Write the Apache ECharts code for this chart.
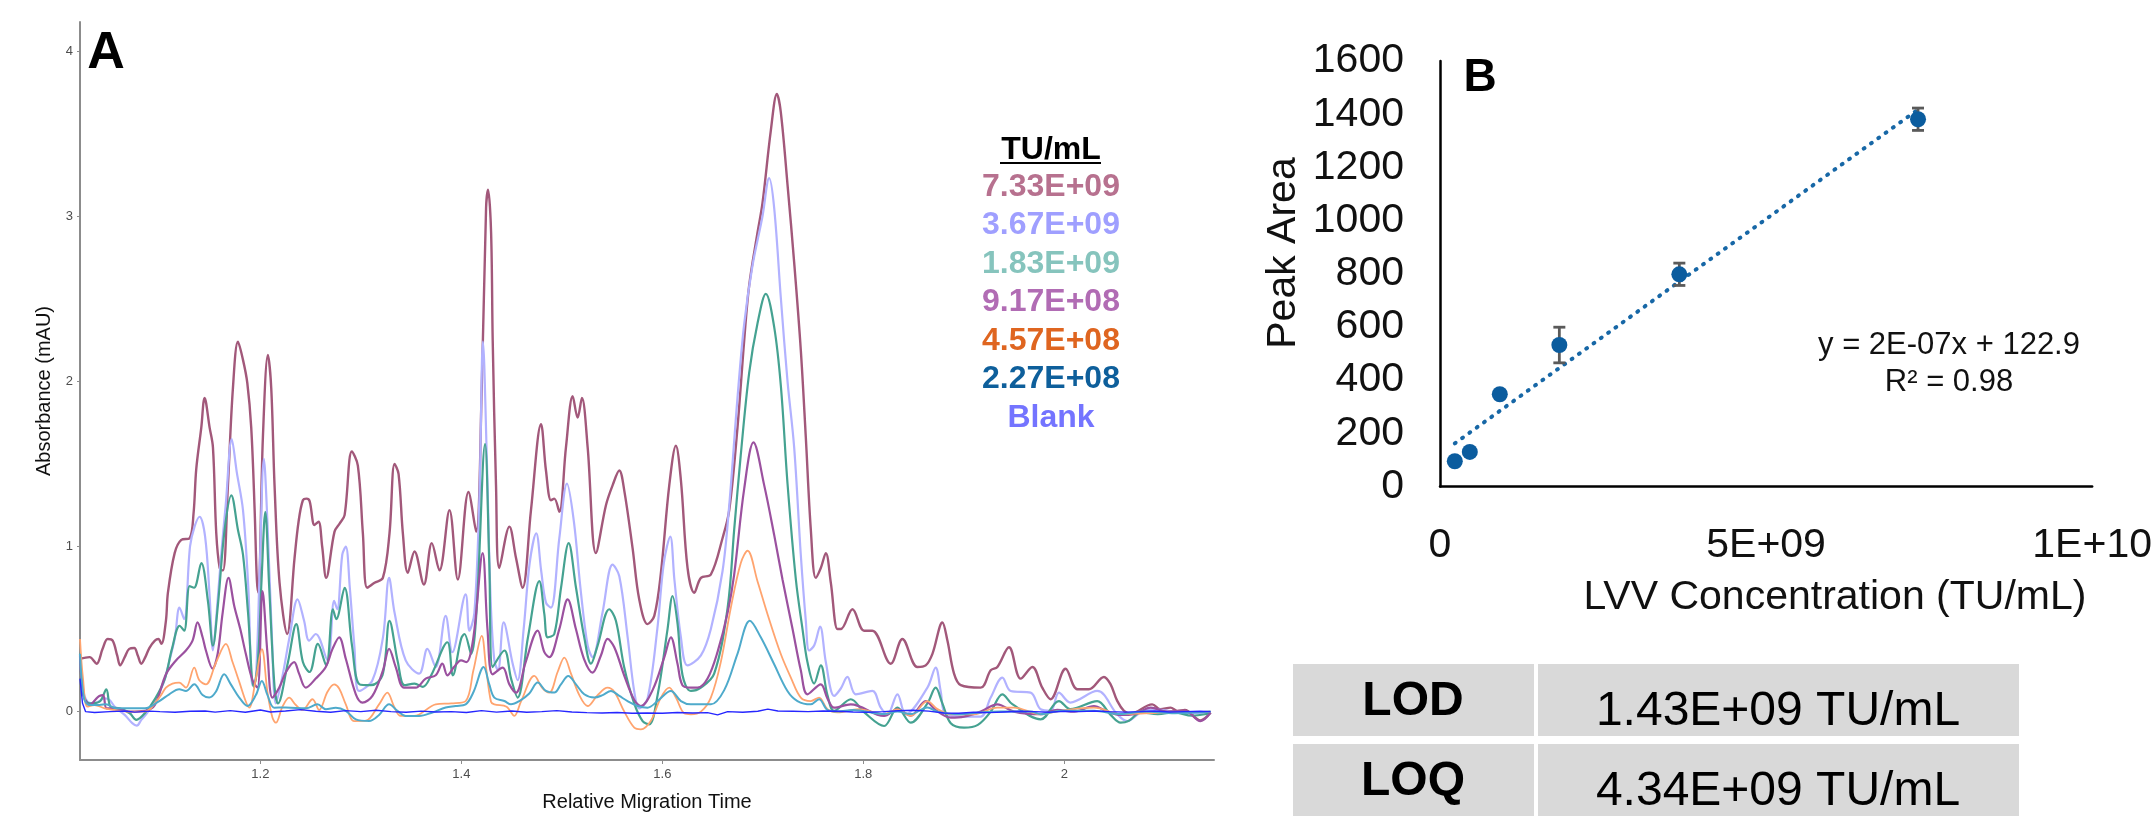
<!DOCTYPE html>
<html>
<head>
<meta charset="utf-8">
<title>LVV capillary electrophoresis</title>
<script src="https://cdn.jsdelivr.net/npm/echarts@6/dist/echarts.min.js"></script>
<style>
  html, body { margin: 0; padding: 0; background: #ffffff; }
  #chart { width: 2155px; height: 821px; }
</style>
</head>
<body>
<div id="chart"></div>
<script>
// ---------- Panel A: electropherograms, [relative migration time, absorbance mAU] ----------
const trace733E09 = [[1.0205,0.32],[1.03,0.33],[1.037,0.29],[1.043,0.38],[1.048,0.44],[1.053,0.43],[1.0575,0.34],[1.0605,0.28],[1.065,0.33],[1.0695,0.38],[1.0745,0.385],[1.078,0.34],[1.0815,0.29],[1.0855,0.33],[1.0895,0.385],[1.095,0.43],[1.0985,0.44],[1.1015,0.41],[1.106,0.55],[1.108,0.72],[1.1147,0.96],[1.1213,1.04],[1.1296,1.05],[1.1335,1.2],[1.1362,1.47],[1.1412,1.72],[1.1445,1.9],[1.1495,1.72],[1.1528,1.6],[1.1561,1.08],[1.1595,0.87],[1.1628,0.855],[1.1677,1.37],[1.1727,1.96],[1.1777,2.24],[1.1827,2.13],[1.187,1.99],[1.1909,1.72],[1.1943,1.22],[1.1965,0.8],[1.198,0.72],[1.2025,1.66],[1.2075,2.16],[1.2108,1.96],[1.2141,1.37],[1.2191,0.78],[1.2267,0.47],[1.234,0.93],[1.238,1.15],[1.2423,1.28],[1.246,1.29],[1.249,1.275],[1.2539,1.13],[1.2579,1.15],[1.2615,1.0],[1.2655,0.81],[1.2738,1.09],[1.279,1.14],[1.2838,1.19],[1.291,1.575],[1.297,1.49],[1.302,1.08],[1.3063,0.75],[1.3136,0.78],[1.3219,0.81],[1.3285,1.08],[1.3335,1.5],[1.3375,1.44],[1.3418,1.08],[1.3467,0.84],[1.3534,0.97],[1.3627,0.77],[1.3706,1.02],[1.3782,0.855],[1.3882,1.22],[1.3965,0.8],[1.4071,1.33],[1.4147,1.09],[1.4203,1.96],[1.4246,3.05],[1.4266,3.16],[1.4296,2.9],[1.4312,2.25],[1.4345,1.37],[1.4378,0.87],[1.4478,1.12],[1.4544,0.93],[1.461,0.75],[1.4693,1.22],[1.4793,1.74],[1.4842,1.46],[1.4892,1.28],[1.4925,1.29],[1.4975,1.21],[1.5041,1.6],[1.5108,1.91],[1.5157,1.78],[1.52,1.9],[1.5257,1.6],[1.5339,0.96],[1.5439,1.25],[1.5505,1.37],[1.5572,1.46],[1.5621,1.34],[1.5704,0.99],[1.577,0.68],[1.5853,0.53],[1.592,0.58],[1.5986,0.84],[1.6069,1.37],[1.6135,1.61],[1.6185,1.4],[1.6251,0.87],[1.6318,0.72],[1.6384,0.81],[1.6483,0.83],[1.6599,1.05],[1.6666,1.22],[1.6748,1.72],[1.6815,2.25],[1.6864,2.58],[1.6947,2.9],[1.6997,3.08],[1.708,3.52],[1.714,3.74],[1.7179,3.63],[1.7246,3.19],[1.7312,2.72],[1.7378,2.19],[1.7428,1.66],[1.7478,1.1],[1.7527,0.81],[1.7577,0.87],[1.7627,0.96],[1.7677,0.78],[1.7743,0.5],[1.7776,0.5],[1.7892,0.62],[1.8008,0.49],[1.809,0.49],[1.8273,0.29],[1.8389,0.44],[1.8538,0.27],[1.8621,0.28],[1.8688,0.35],[1.8787,0.54],[1.8837,0.43],[1.8903,0.23],[1.897,0.16],[1.9168,0.145],[1.9268,0.25],[1.9334,0.27],[1.945,0.39],[1.9566,0.2],[1.9682,0.27],[1.9781,0.145],[1.9864,0.075],[2.0013,0.26],[2.013,0.135],[2.0245,0.135],[2.0395,0.21],[2.0461,0.165],[2.0527,0.065],[2.0594,0.005],[2.066,-0.012],[2.0875,0.044],[2.0958,0.014],[2.1058,0.024],[2.1124,0.004],[2.12,0.01],[2.1356,-0.053],[2.1456,-0.006]];

const trace367E09 = [[1.0205,0.33],[1.024,0.12],[1.028,0.06],[1.035,0.05],[1.045,0.08],[1.05,0.07],[1.055,0.03],[1.065,-0.02],[1.0725,-0.07],[1.077,-0.085],[1.0815,-0.05],[1.087,-0.01],[1.095,0.06],[1.1,0.12],[1.105,0.2],[1.11,0.32],[1.115,0.45],[1.1195,0.63],[1.1242,0.56],[1.13,1.0],[1.1345,1.12],[1.1395,1.18],[1.145,1.06],[1.1495,0.7],[1.1528,0.37],[1.1565,0.6],[1.161,0.95],[1.1655,1.25],[1.1715,1.65],[1.1765,1.45],[1.1827,1.22],[1.188,0.75],[1.1922,0.16],[1.1955,0.2],[1.1995,0.9],[1.2035,1.53],[1.207,1.15],[1.2115,0.45],[1.2154,0.05],[1.2215,0.2],[1.229,0.45],[1.237,0.68],[1.2435,0.55],[1.2485,0.43],[1.2551,0.47],[1.2668,0.31],[1.2734,0.67],[1.2765,0.62],[1.2815,0.95],[1.285,1.0],[1.289,0.75],[1.2935,0.4],[1.2982,0.125],[1.3115,0.19],[1.322,0.45],[1.3281,0.81],[1.3335,0.6],[1.3446,0.31],[1.358,0.23],[1.3662,0.38],[1.3745,0.27],[1.3844,0.58],[1.391,0.36],[1.4043,0.71],[1.408,0.49],[1.413,0.6],[1.418,1.3],[1.4215,2.24],[1.4255,1.5],[1.429,0.7],[1.4328,0.31],[1.4365,0.25],[1.4421,0.54],[1.4511,0.29],[1.456,0.19],[1.462,0.5],[1.468,0.9],[1.4745,1.08],[1.4795,0.85],[1.4842,0.66],[1.4892,0.63],[1.4975,1.05],[1.5051,1.38],[1.512,1.15],[1.5185,0.75],[1.5257,0.4],[1.5306,0.33],[1.5405,0.6],[1.5505,0.89],[1.5572,0.82],[1.5655,0.45],[1.5721,0.12],[1.577,0.02],[1.5853,0.08],[1.595,0.5],[1.6015,0.9],[1.6079,1.06],[1.612,0.8],[1.6185,0.45],[1.6251,0.28],[1.6384,0.34],[1.6483,0.5],[1.6599,0.85],[1.6666,1.25],[1.6748,1.9],[1.6815,2.35],[1.6897,2.7],[1.6997,3.0],[1.7063,3.23],[1.7113,3.05],[1.718,2.5],[1.7246,2.0],[1.7312,1.6],[1.7378,0.95],[1.7428,0.55],[1.7461,0.37],[1.7511,0.4],[1.757,0.515],[1.7627,0.3],[1.771,0.095],[1.7776,0.14],[1.7842,0.21],[1.7925,0.105],[1.809,0.125],[1.8174,0.024],[1.824,-0.016],[1.834,0.105],[1.8422,-0.016],[1.8638,0.145],[1.872,0.266],[1.877,0.125],[1.882,-0.016],[1.9003,-0.03],[1.9168,-0.03],[1.9268,0.085],[1.9384,0.206],[1.9467,0.125],[1.9665,0.115],[1.9765,0.014],[1.9864,0.005],[1.9947,0.115],[2.006,0.055],[2.0328,0.125],[2.0527,-0.016],[2.0627,-0.057],[2.076,-0.006],[2.089,0.014],[2.11,0.0],[2.13,-0.01],[2.1456,0.0]];

const trace183E09 = [[1.0205,0.35],[1.024,0.1],[1.03,0.05],[1.04,0.06],[1.0467,0.135],[1.051,0.03],[1.06,0.02],[1.07,-0.01],[1.0766,-0.05],[1.085,-0.01],[1.0955,0.08],[1.105,0.2],[1.112,0.38],[1.1197,0.52],[1.1242,0.49],[1.1296,0.76],[1.134,0.75],[1.1412,0.9],[1.1478,0.67],[1.1528,0.4],[1.1578,0.65],[1.1644,1.1],[1.1711,1.31],[1.1777,1.1],[1.1827,0.95],[1.1877,0.6],[1.1935,0.15],[1.1975,0.3],[1.2012,0.8],[1.2049,1.21],[1.2088,0.75],[1.2141,0.15],[1.2175,0.05],[1.2275,0.3],[1.2357,0.53],[1.2423,0.3],[1.249,0.24],[1.2572,0.41],[1.2655,0.28],[1.2722,0.62],[1.2755,0.56],[1.2838,0.75],[1.2912,0.4],[1.2987,0.165],[1.31,0.16],[1.3215,0.22],[1.3285,0.55],[1.3368,0.3],[1.3434,0.16],[1.3534,0.17],[1.3617,0.15],[1.37,0.22],[1.3861,0.42],[1.3915,0.22],[1.3997,0.44],[1.4031,0.47],[1.4097,0.35],[1.415,0.6],[1.4236,1.62],[1.4278,0.9],[1.4312,0.27],[1.4428,0.37],[1.4495,0.2],[1.456,0.085],[1.4663,0.45],[1.4776,0.79],[1.4826,0.59],[1.4859,0.45],[1.4925,0.47],[1.4992,0.75],[1.5068,1.02],[1.5141,0.75],[1.5223,0.45],[1.529,0.29],[1.5356,0.4],[1.5472,0.62],[1.5538,0.55],[1.562,0.27],[1.572,0.05],[1.5804,-0.057],[1.587,-0.077],[1.5953,0.1],[1.6052,0.5],[1.6102,0.7],[1.6152,0.53],[1.6201,0.22],[1.6284,0.125],[1.6384,0.145],[1.6516,0.23],[1.665,0.63],[1.6715,1.1],[1.678,1.55],[1.6864,2.05],[1.6947,2.35],[1.703,2.53],[1.7113,2.33],[1.718,1.97],[1.7246,1.38],[1.7329,0.8],[1.7395,0.5],[1.7444,0.3],[1.7511,0.17],[1.7577,0.28],[1.7643,0.1],[1.771,0.004],[1.7875,0.075],[1.801,-0.005],[1.8207,-0.087],[1.834,0.024],[1.8472,-0.067],[1.8638,0.05],[1.872,0.145],[1.8787,0.05],[1.887,-0.07],[1.9003,-0.097],[1.914,-0.08],[1.9268,0.0],[1.9384,0.105],[1.9483,0.045],[1.9765,-0.047],[1.9947,0.064],[2.006,0.015],[2.0328,0.064],[2.0461,-0.02],[2.0561,-0.067],[2.0644,-0.055],[2.076,-0.005],[2.093,-0.015],[2.11,-0.005],[2.127,-0.025],[2.1456,-0.01]];

const trace917E08 = [[1.0205,0.34],[1.024,0.1],[1.03,0.04],[1.037,0.08],[1.0397,0.095],[1.0435,0.1],[1.047,0.02],[1.055,0.02],[1.07,0.0],[1.085,0.005],[1.095,0.04],[1.106,0.226],[1.116,0.31],[1.1259,0.37],[1.1325,0.43],[1.1375,0.54],[1.1425,0.45],[1.1458,0.37],[1.1524,0.26],[1.1575,0.35],[1.1625,0.6],[1.1683,0.81],[1.174,0.64],[1.18,0.5],[1.1855,0.35],[1.1922,0.19],[1.1971,0.145],[1.2021,0.73],[1.2071,0.35],[1.212,0.085],[1.2187,0.145],[1.2255,0.24],[1.2336,0.3],[1.2385,0.23],[1.2452,0.145],[1.2551,0.2],[1.2651,0.27],[1.2718,0.38],[1.2784,0.45],[1.285,0.32],[1.295,0.105],[1.3016,0.055],[1.3115,0.095],[1.322,0.25],[1.3281,0.38],[1.3347,0.27],[1.343,0.145],[1.3546,0.145],[1.3645,0.2],[1.3745,0.22],[1.3811,0.29],[1.3861,0.22],[1.3927,0.27],[1.3997,0.31],[1.405,0.3],[1.412,0.45],[1.4212,0.96],[1.426,0.5],[1.4312,0.226],[1.4411,0.266],[1.4478,0.165],[1.4544,0.115],[1.464,0.3],[1.476,0.49],[1.4826,0.36],[1.4875,0.33],[1.4975,0.5],[1.5058,0.68],[1.514,0.5],[1.522,0.32],[1.5306,0.236],[1.5389,0.34],[1.5455,0.44],[1.5522,0.39],[1.562,0.22],[1.5721,0.07],[1.5787,0.034],[1.5903,0.13],[1.602,0.33],[1.6085,0.45],[1.6151,0.29],[1.62,0.16],[1.6284,0.145],[1.6351,0.145],[1.645,0.2],[1.6549,0.36],[1.665,0.6],[1.6715,0.83],[1.6815,1.35],[1.6907,1.63],[1.7014,1.37],[1.7113,1.07],[1.7196,0.8],[1.7296,0.5],[1.7378,0.25],[1.7444,0.105],[1.7577,0.165],[1.7643,0.08],[1.771,0.024],[1.7875,0.044],[1.8207,-0.026],[1.834,0.014],[1.8472,-0.025],[1.8621,0.064],[1.872,0.01],[1.887,-0.036],[1.9003,-0.03],[1.9168,0.0],[1.9334,0.044],[1.9499,0.0],[1.9765,-0.016],[1.9931,0.01],[2.01,0.0],[2.0295,0.034],[2.0427,0.0],[2.0561,-0.02],[2.07,-0.015],[2.086,0.024],[2.1025,0.0],[2.12,0.005],[2.1356,-0.057],[2.1456,-0.006]];

const trace457E08 = [[1.0205,0.44],[1.0235,0.2],[1.028,0.03],[1.035,0.04],[1.045,0.02],[1.055,0.01],[1.07,0.0],[1.085,0.0],[1.0994,0.085],[1.106,0.145],[1.1125,0.17],[1.1192,0.176],[1.1259,0.145],[1.1342,0.266],[1.1392,0.19],[1.1458,0.165],[1.156,0.3],[1.1657,0.41],[1.1723,0.3],[1.179,0.18],[1.1856,0.06],[1.1889,0.024],[1.1955,0.2],[1.2015,0.378],[1.207,0.12],[1.212,-0.036],[1.2154,-0.067],[1.222,0.03],[1.2286,0.085],[1.2353,0.04],[1.242,0.01],[1.2519,0.075],[1.2585,0.01],[1.2668,0.12],[1.2734,0.165],[1.2784,0.14],[1.285,0.044],[1.2933,-0.057],[1.305,-0.055],[1.3181,0.044],[1.3264,0.115],[1.3331,0.03],[1.3397,-0.026],[1.353,-0.026],[1.3745,0.044],[1.39,0.05],[1.4043,0.064],[1.412,0.25],[1.4203,0.459],[1.4245,0.27],[1.4295,0.06],[1.4328,0.044],[1.445,0.03],[1.4527,-0.026],[1.4593,0.06],[1.4726,0.216],[1.4809,0.14],[1.4875,0.115],[1.4958,0.24],[1.5025,0.327],[1.5091,0.23],[1.5174,0.1],[1.5257,0.034],[1.5356,0.1],[1.5455,0.145],[1.5522,0.12],[1.5622,0.0],[1.5721,-0.097],[1.5787,-0.107],[1.5886,-0.055],[1.5986,0.085],[1.6069,0.145],[1.6135,0.085],[1.6218,-0.01],[1.6284,-0.016],[1.6384,0.0],[1.6483,0.085],[1.6582,0.3],[1.6682,0.63],[1.6781,0.9],[1.6848,0.974],[1.6947,0.79],[1.7047,0.59],[1.718,0.347],[1.7279,0.206],[1.7378,0.085],[1.7477,0.064],[1.756,0.085],[1.7643,0.015],[1.7743,-0.005],[1.795,0.015],[1.8207,-0.015],[1.834,0.014],[1.8472,-0.025],[1.8638,0.064],[1.8738,0.015],[1.887,-0.016],[1.91,-0.016],[1.9334,0.024],[1.9499,0.024],[1.9765,-0.016],[1.9964,0.005],[2.0295,0.024],[2.0561,-0.015],[2.08,-0.01],[2.11,-0.005],[2.1456,0.0]];

const trace227E08 = [[1.0205,0.35],[1.0245,0.08],[1.03,0.04],[1.04,0.04],[1.0463,0.045],[1.0563,0.02],[1.07,0.02],[1.085,0.02],[1.0994,0.064],[1.1093,0.105],[1.1192,0.135],[1.1259,0.125],[1.1342,0.165],[1.1425,0.1],[1.1491,0.085],[1.1557,0.12],[1.164,0.226],[1.1706,0.165],[1.179,0.085],[1.1872,0.034],[1.1955,0.1],[1.2015,0.186],[1.2071,0.1],[1.2137,0.024],[1.2253,0.025],[1.2452,0.02],[1.2568,0.044],[1.2651,0.015],[1.2751,0.024],[1.285,0.005],[1.295,-0.047],[1.3082,-0.057],[1.3181,-0.02],[1.3281,0.044],[1.3364,0.005],[1.3446,-0.026],[1.358,-0.026],[1.3712,-0.005],[1.3844,0.025],[1.3943,0.034],[1.4043,0.044],[1.4122,0.12],[1.4222,0.27],[1.4278,0.165],[1.4328,0.085],[1.4428,0.064],[1.4494,0.044],[1.4577,0.064],[1.4676,0.11],[1.476,0.176],[1.4842,0.125],[1.4925,0.115],[1.4991,0.165],[1.5064,0.216],[1.5141,0.165],[1.5223,0.105],[1.5323,0.085],[1.5406,0.1],[1.5489,0.125],[1.5572,0.095],[1.5654,0.064],[1.5754,0.034],[1.5853,0.024],[1.5953,0.064],[1.6085,0.125],[1.6185,0.064],[1.6284,0.044],[1.6384,0.044],[1.6483,0.044],[1.6616,0.13],[1.6748,0.35],[1.6871,0.55],[1.698,0.45],[1.7113,0.287],[1.7245,0.125],[1.7345,0.064],[1.7477,0.044],[1.756,0.075],[1.7643,0.01],[1.7743,0.0],[1.79,0.01],[1.8207,-0.015],[1.834,0.0],[1.8472,-0.015],[1.8638,0.025],[1.8738,0.0],[1.895,-0.016],[1.9168,-0.005],[1.9367,0.0],[1.9665,0.0],[1.9765,-0.016],[1.9964,0.005],[2.0295,0.005],[2.056,-0.015],[2.08,0.0],[2.11,-0.01],[2.1456,0.0]];

const traceBlank = [[1.0205,0.2],[1.023,0.05],[1.026,0.0],[1.035,-0.005],[1.05,0.0],[1.065,0.004],[1.075,-0.003],[1.09,0.003],[1.1,0.0],[1.115,-0.004],[1.13,0.002],[1.145,0.004],[1.155,-0.003],[1.17,0.006],[1.185,-0.004],[1.2,0.01],[1.21,-0.002],[1.225,0.004],[1.24,0.012],[1.255,0.002],[1.27,-0.004],[1.285,0.006],[1.3,0.0],[1.315,0.008],[1.33,0.0],[1.345,-0.004],[1.36,0.003],[1.375,-0.002],[1.39,0.0],[1.405,-0.005],[1.42,0.006],[1.435,-0.003],[1.45,0.004],[1.465,-0.004],[1.48,0.0],[1.495,0.006],[1.51,-0.002],[1.525,-0.006],[1.54,-0.008],[1.555,-0.005],[1.57,-0.01],[1.585,-0.008],[1.6,-0.01],[1.615,-0.005],[1.63,-0.008],[1.645,-0.006],[1.655,-0.02],[1.665,0.0],[1.68,-0.004],[1.695,0.002],[1.705,0.015],[1.715,0.004],[1.73,0.002],[1.745,0.0],[1.76,0.004],[1.775,0.002],[1.79,-0.002],[1.805,-0.004],[1.82,0.0],[1.835,0.005],[1.85,0.008],[1.865,0.003],[1.88,-0.008],[1.895,-0.01],[1.91,-0.004],[1.925,-0.006],[1.94,-0.002],[1.955,0.002],[1.97,0.0],[1.985,-0.004],[2.0,0.002],[2.015,0.0],[2.03,0.004],[2.045,0.0],[2.06,-0.003],[2.075,0.0],[2.09,0.004],[2.105,-0.002],[2.12,0.0],[2.135,0.002],[2.1456,0.0]];

const traceLabels = ['7.33E+09', '3.67E+09', '1.83E+09', '9.17E+08', '4.57E+08', '2.27E+08', 'Blank'];
const migrationTicks = [1.2, 1.4, 1.6, 1.8, 2];
const absorbanceTicks = [0, 1, 2, 3, 4];

// ---------- Panel B: calibration ----------
const concentration = [2.27e8, 4.57e8, 9.17e8, 1.83e9, 3.67e9, 7.33e9];
const peakArea = [95, 130, 347, 532, 798, 1381];
// standard deviations; the three lowest are hidden behind their markers
const peakAreaSD = [null, null, null, 67, 42, 42];
const concentrationTicks = ['0', '5E+09', '1E+10'];
const fitLabel = 'y = 2E-07x + 122.9';
const r2Label = 'R² = 0.98';

// ---------- Limits table ----------
const limitNames = ['LOD', 'LOQ'];
const limitValues = ['1.43E+09 TU/mL', '4.34E+09 TU/mL'];

const FONT = "'Liberation Sans', Arial, Helvetica, sans-serif";

const traces = [trace733E09, trace367E09, trace183E09, trace917E08, trace457E08, trace227E08, traceBlank];
const lineColors = ['#a2587a', '#b2b2ff', '#45a291', '#9b519f', '#ffa46f', '#4eaacb', '#2626ff'];
const lineWidths = [2.4, 2.2, 2.2, 2.2, 1.8, 2.0, 1.4];
const labelColors = ['#b7718f', '#9f9fff', '#86c4bd', '#b16cb4', '#df6520', '#0e5f9b', '#7474ff'];

// least-squares trendline through the calibration points
function linearFit(xs, ys) {
  const n = xs.length;
  const mx = xs.reduce((a, b) => a + b, 0) / n;
  const my = ys.reduce((a, b) => a + b, 0) / n;
  let sxy = 0, sxx = 0;
  for (let i = 0; i < n; i++) { sxy += (xs[i] - mx) * (ys[i] - my); sxx += (xs[i] - mx) ** 2; }
  const slope = sxy / sxx;
  return { slope, intercept: my - slope * mx };
}
const fit = linearFit(concentration, peakArea);
const xFirst = concentration[0], xLast = concentration[concentration.length - 1];
const trendData = [[xFirst, fit.slope * xFirst + fit.intercept], [xLast, fit.slope * xLast + fit.intercept]];

const traceSeries = traces.map((d, i) => ({
  name: traceLabels[i],
  type: 'line',
  xAxisIndex: 0, yAxisIndex: 0,
  data: d,
  smooth: i === 6 ? false : 0.35,
  showSymbol: false,
  lineStyle: { color: lineColors[i], width: lineWidths[i] },
  z: 2 + i
}));

// legend column for the electropherograms
const legendX = 1051;
const legendGraphics = [
  { type: 'text', x: legendX, y: 150, style: { text: 'TU/mL', fill: '#000', font: 'bold 32px ' + FONT, align: 'center', verticalAlign: 'middle' } },
  { type: 'line', shape: { x1: 1000, y1: 163, x2: 1101, y2: 163 }, style: { stroke: '#000', lineWidth: 2.2 } }
].concat(traceLabels.map((t, i) => ({
  type: 'text', x: legendX, y: 187 + 38.5 * i,
  style: { text: t, fill: labelColors[i], font: 'bold 32px ' + FONT, align: 'center', verticalAlign: 'middle' }
})));

// limits table
const tableGraphics = [];
limitNames.forEach((name, i) => {
  const top = 664 + i * 80;
  tableGraphics.push({ type: 'rect', shape: { x: 1293, y: top, width: 241, height: 72 }, style: { fill: '#d9d9d9' } });
  tableGraphics.push({ type: 'rect', shape: { x: 1538, y: top, width: 481, height: 72 }, style: { fill: '#d9d9d9' } });
  tableGraphics.push({ type: 'text', x: 1413, y: top + 38, style: { text: name, fill: '#000', font: 'bold 48px ' + FONT, align: 'center', verticalAlign: 'middle' } });
  tableGraphics.push({ type: 'text', x: 1778, y: top + 48, style: { text: limitValues[i], fill: '#000', font: '48px ' + FONT, align: 'center', verticalAlign: 'middle' } });
});

const option = {
  animation: false,
  backgroundColor: '#ffffff',
  grid: [
    { left: 80, top: 22, width: 1134, height: 738, containLabel: false },
    { left: 1440, top: 61, width: 655, height: 425.5, containLabel: false }
  ],
  xAxis: [
    {
      gridIndex: 0, type: 'value', min: 1.0205, max: 2.149,
      name: 'Relative Migration Time', nameLocation: 'middle', nameGap: 32,
      nameTextStyle: { fontFamily: FONT, fontSize: 20, color: '#111' },
      axisLine: { show: true, onZero: false, lineStyle: { color: '#8c8c8c', width: 2 } },
      axisTick: { show: true, length: 4, lineStyle: { color: '#8c8c8c' }, customValues: migrationTicks },
      axisLabel: { fontFamily: FONT, fontSize: 13, color: '#4d4d4d', margin: 8, customValues: migrationTicks },
      splitLine: { show: false }
    },
    {
      gridIndex: 1, type: 'value', min: 0, max: 1e10, interval: 5e9,
      axisLine: { show: true, onZero: false, lineStyle: { color: '#000', width: 2.5 } },
      axisTick: { show: false },
      axisLabel: {
        fontFamily: FONT, fontSize: 41, color: '#111', margin: 39,
        formatter: (v, idx) => concentrationTicks[idx]
      },
      splitLine: { show: false }
    }
  ],
  yAxis: [
    {
      gridIndex: 0, type: 'value', min: -0.293, max: 4.176,
      name: 'Absorbance (mAU)', nameLocation: 'middle', nameGap: 13, nameRotate: 90,
      nameTextStyle: { fontFamily: FONT, fontSize: 20, color: '#111' },
      axisLine: { show: true, onZero: false, lineStyle: { color: '#8c8c8c', width: 2 } },
      axisTick: { show: true, length: 3, lineStyle: { color: '#8c8c8c' }, customValues: absorbanceTicks },
      axisLabel: { fontFamily: FONT, fontSize: 13, color: '#4d4d4d', margin: 7, customValues: absorbanceTicks },
      splitLine: { show: false }
    },
    {
      gridIndex: 1, type: 'value', min: 0, max: 1600, interval: 200,
      axisLine: { show: true, onZero: false, lineStyle: { color: '#000', width: 2.5 } },
      axisTick: { show: false },
      axisLabel: { fontFamily: FONT, fontSize: 41, color: '#111', margin: 36, formatter: v => String(v) },
      splitLine: { show: false }
    }
  ],
  series: traceSeries.concat([
    {
      name: 'Linear fit', type: 'line', xAxisIndex: 1, yAxisIndex: 1,
      data: trendData, showSymbol: false, z: 1,
      lineStyle: { color: '#1767a6', width: 4, type: [1, 8], cap: 'round' }
    },
    {
      name: 'SD', type: 'custom', xAxisIndex: 1, yAxisIndex: 1, z: 2,
      data: concentration.map((c, i) => [c, peakArea[i], peakAreaSD[i] || 0]),
      encode: { x: 0, y: 1 },
      renderItem: (params, api) => {
        const x = api.value(0), y = api.value(1), e = api.value(2);
        if (!e) return null;
        const top = api.coord([x, y + e]);
        const bot = api.coord([x, y - e]);
        const half = 6;
        const st = { stroke: '#5a5a5a', lineWidth: 2.8 };
        return {
          type: 'group',
          children: [
            { type: 'line', shape: { x1: top[0], y1: top[1], x2: bot[0], y2: bot[1] }, style: st },
            { type: 'line', shape: { x1: top[0] - half, y1: top[1], x2: top[0] + half, y2: top[1] }, style: st },
            { type: 'line', shape: { x1: bot[0] - half, y1: bot[1], x2: bot[0] + half, y2: bot[1] }, style: st }
          ]
        };
      }
    },
    {
      name: 'Peak Area', type: 'scatter', xAxisIndex: 1, yAxisIndex: 1, z: 3,
      data: concentration.map((c, i) => [c, peakArea[i]]),
      symbol: 'circle', symbolSize: 16,
      itemStyle: { color: '#0b5c9e', opacity: 1 }
    }
  ]),
  graphic: [
    { type: 'text', x: 106, y: 54, style: { text: 'A', fill: '#000', font: 'bold 52px ' + FONT, align: 'center', verticalAlign: 'middle' } },
    { type: 'text', x: 1480, y: 78, style: { text: 'B', fill: '#000', font: 'bold 46px ' + FONT, align: 'center', verticalAlign: 'middle' } },
    { type: 'text', x: 1284, y: 253, rotation: Math.PI / 2, style: { text: 'Peak Area', fill: '#111', font: '41px ' + FONT, align: 'center', verticalAlign: 'middle' } },
    { type: 'text', x: 1835, y: 598, style: { text: 'LVV Concentration (TU/mL)', fill: '#111', font: '41px ' + FONT, align: 'center', verticalAlign: 'middle' } },
    { type: 'text', x: 1949, y: 345, style: { text: fitLabel, fill: '#111', font: '31px ' + FONT, align: 'center', verticalAlign: 'middle' } },
    { type: 'text', x: 1949, y: 382, style: { text: r2Label, fill: '#111', font: '31px ' + FONT, align: 'center', verticalAlign: 'middle' } }
  ].concat(legendGraphics, tableGraphics)
};

const chart = echarts.init(document.getElementById('chart'), null, { renderer: 'canvas', width: 2155, height: 821 });
chart.setOption(option);
</script>
</body>
</html>
